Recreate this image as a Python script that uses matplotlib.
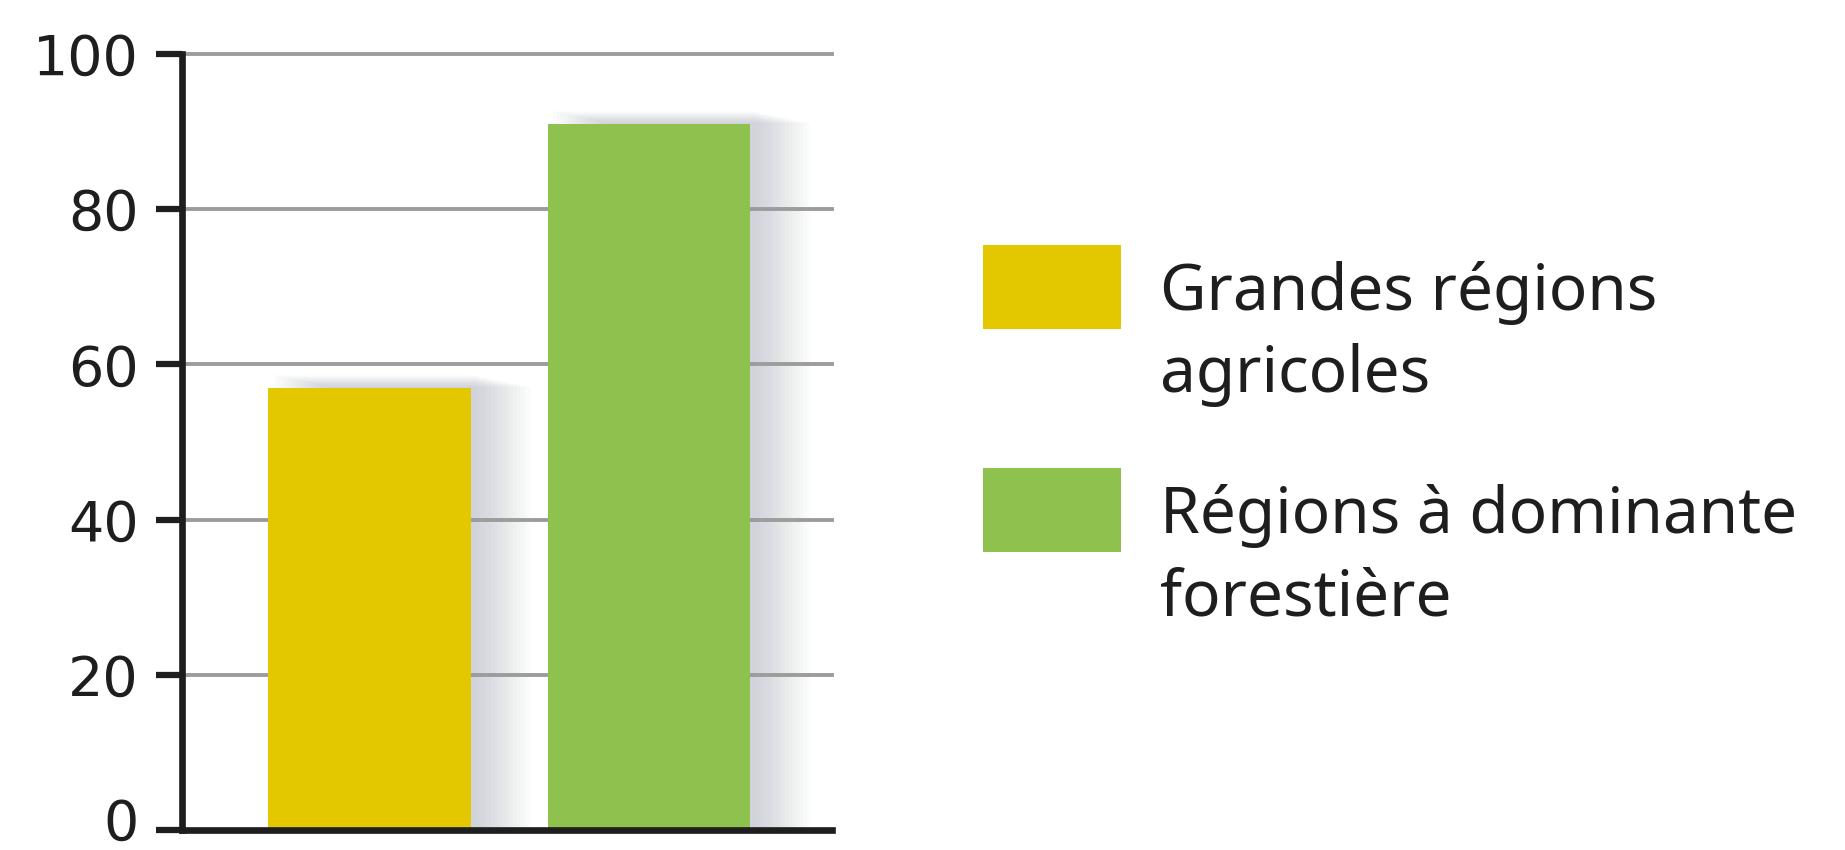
import matplotlib
matplotlib.use("Agg")
import matplotlib.pyplot as plt
import matplotlib.transforms as mtransforms
from matplotlib.patches import Rectangle

# ---- data ----
categories = ["Grandes régions\nagricoles", "Régions à dominante\nforestière"]
values = [57, 91]
colors = ["#E3C800", "#8FC14F"]
yticks = [0, 20, 40, 60, 80, 100]

W, H = 1845, 850
fig = plt.figure(figsize=(W / 100, H / 100), dpi=100)
fig.patch.set_facecolor("white")

ax = fig.add_axes([182 / W, 1 - 830 / H, 650 / W, 776 / H])
x = list(range(len(values)))
bw = 0.726

# soft drop shadow behind bars (layers with feathered top and right edge)
for i in range(16):
    off = 0.013 * i
    ax.bar([xi + off + 0.02 for xi in x], [v + 1.6 - 0.1 * i for v in values],
           width=bw, color="#7f8799", alpha=0.022, zorder=0.5, linewidth=0)

ax.bar(x, values, width=bw, color=colors, zorder=3, linewidth=0)

ax.set_xlim(-0.671, 1.655)
ax.set_ylim(0, 100)
ax.set_yticks(yticks)
ax.set_yticklabels([str(t) for t in yticks], fontsize=40, family="DejaVu Sans",
                   color="#1e1e1e")
ax.set_xticks([])
ax.tick_params(axis="y", length=19, width=4.5, color="#1e1e1e", pad=12)
# the "0" label sits slightly above its tick in the reference
lbl0 = ax.get_yticklabels()[0]
lbl0.set_transform(lbl0.get_transform() +
                   mtransforms.ScaledTranslation(0, 11 / 100, fig.dpi_scale_trans))

for t in yticks[1:]:
    ax.axhline(t, color="#9c9c9c", linewidth=2.8, zorder=1, clip_on=False)

for s in ["top", "right"]:
    ax.spines[s].set_visible(False)
for s in ["left", "bottom"]:
    ax.spines[s].set_linewidth(4.8)
    ax.spines[s].set_color("#1e1e1e")
    ax.spines[s].set_zorder(5)
ax.set_facecolor("white")

# ---- legend ----
patch_tops = [245, 468]
for lab, col, top in zip(categories, colors, patch_tops):
    fig.add_artist(Rectangle((983 / W, 1 - (top + 84) / H), 138 / W, 84 / H,
                             transform=fig.transFigure, color=col, linewidth=0))
    base = top + 65
    for j, line in enumerate(lab.split("\n")):
        fig.text(1160 / W, 1 - (base + 82 * j) / H, line, va="baseline",
                 ha="left", fontsize=46, family="Noto Sans", color="#1e1e1e")

fig.savefig("out.png", dpi=100, facecolor="white")
